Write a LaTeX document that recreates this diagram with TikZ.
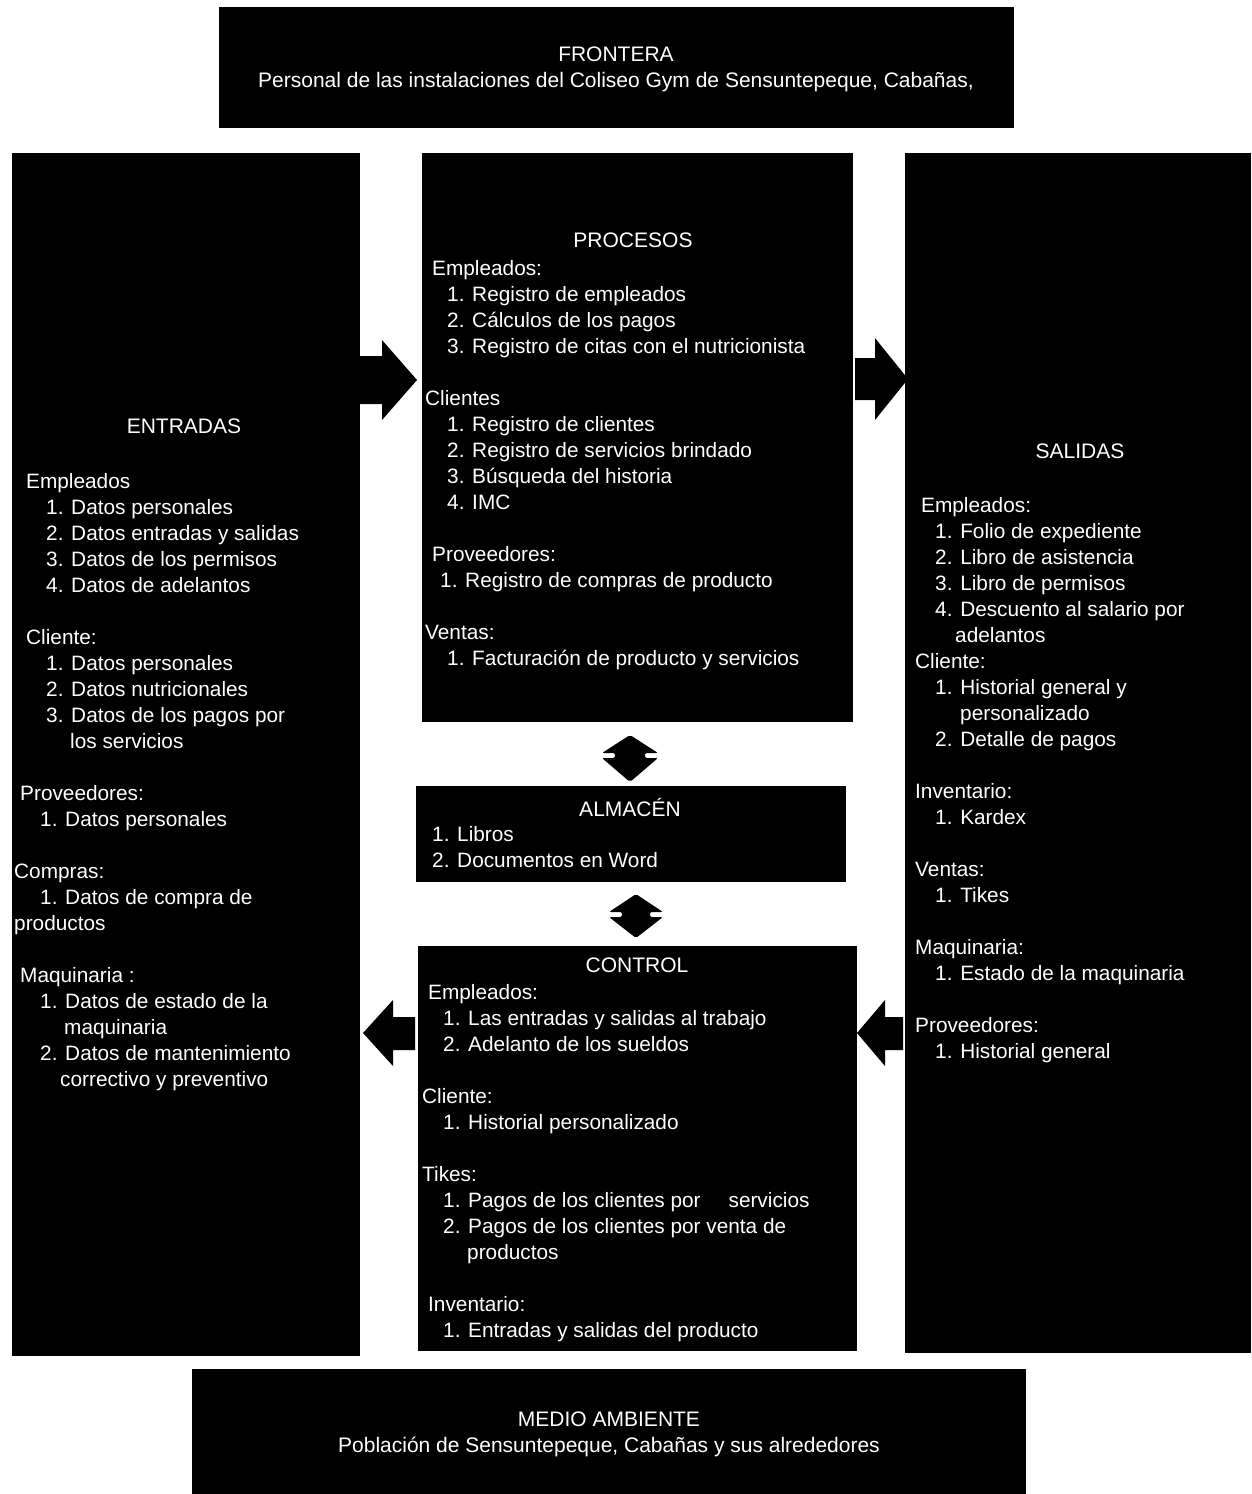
\documentclass[tikz,border=0pt]{standalone}
\usepackage{fontspec}
\setmainfont{Liberation Sans}
\begin{document}
\begin{tikzpicture}[x=1pt,y=-1pt,
  box/.style={fill=black, draw=none, anchor=north west, inner sep=0pt},
  body/.style={text=white, font=\fontsize{20.8}{26}\selectfont, inner sep=0pt, align=left, anchor=north west},
  title/.style={text=white, font=\fontsize{21}{26}\selectfont, inner sep=0pt, align=center},
  blockarrow/.style={fill=black},
  twoway/.style={fill=black, rounded corners=2pt}]

\fill[white] (0,0) rectangle (1251,1494);
\useasboundingbox (0,0) rectangle (1251,1494);

% black panels
\node[box, minimum width=795pt, minimum height=121pt]  (frontera) at (219,7)   {};
\node[box, minimum width=348pt, minimum height=1203pt] (entradas) at (12,153)  {};
\node[box, minimum width=431pt, minimum height=569pt]  (procesos) at (422,153) {};
\node[box, minimum width=346pt, minimum height=1200pt] (salidas)  at (905,153) {};
\node[box, minimum width=430pt, minimum height=96pt]   (almacen)  at (416,786) {};
\node[box, minimum width=439pt, minimum height=405pt]  (control)  at (418,946) {};
\node[box, minimum width=834pt, minimum height=125pt]  (medio)    at (192,1369) {};

% headings
\node[title] (tfrontera) at (616,69) {FRONTERA\\Personal de las instalaciones del Coliseo Gym de Sensuntepeque, Cabañas,};
\node[title] (tmedio) at (609,1434) {MEDIO AMBIENTE\\Población de Sensuntepeque, Cabañas y sus alrededores};
\node[title] (tentradas) at (184,426) {ENTRADAS};
\node[title] (tprocesos) at (633,240) {PROCESOS};
\node[title] (tsalidas)  at (1080,451) {SALIDAS};
\node[title] (talmacen)  at (630,807) {ALMACÉN};
\node[title] (tcontrol)  at (637,965) {CONTROL};

% panel contents
\node[body] (bentradas) at (14,472.8) {%
\hspace*{12pt}Empleados\\
\hspace*{32pt}1. Datos personales\\
\hspace*{32pt}2. Datos entradas y salidas\\
\hspace*{32pt}3. Datos de los permisos\\
\hspace*{32pt}4. Datos de adelantos\\
\mbox{}\\
\hspace*{12pt}Cliente:\\
\hspace*{32pt}1. Datos personales\\
\hspace*{32pt}2. Datos nutricionales\\
\hspace*{32pt}3. Datos de los pagos por\\
\hspace*{56pt}los servicios\\
\mbox{}\\
\hspace*{6pt}Proveedores:\\
\hspace*{26pt}1. Datos personales\\
\mbox{}\\
Compras:\\
\hspace*{26pt}1. Datos de compra de\\
productos\\
\mbox{}\\
\hspace*{6pt}Maquinaria :\\
\hspace*{26pt}1. Datos de estado de la\\
\hspace*{50pt}maquinaria\\
\hspace*{26pt}2. Datos de mantenimiento\\
\hspace*{46pt}correctivo y preventivo};

\node[body] (bprocesos) at (425,259.8) {%
\hspace*{7pt}Empleados:\\
\hspace*{22pt}1. Registro de empleados\\
\hspace*{22pt}2. Cálculos de los pagos\\
\hspace*{22pt}3. Registro de citas con el nutricionista\\
\mbox{}\\
Clientes\\
\hspace*{22pt}1. Registro de clientes\\
\hspace*{22pt}2. Registro de servicios brindado\\
\hspace*{22pt}3. Búsqueda del historia\\
\hspace*{22pt}4. IMC\\
\mbox{}\\
\hspace*{7pt}Proveedores:\\
\hspace*{15pt}1. Registro de compras de producto\\
\mbox{}\\
Ventas:\\
\hspace*{22pt}1. Facturación de producto y servicios};

\node[body] (balmacen) at (432,825.8) {%
1. Libros\\
2. Documentos en Word};

\node[body] (bcontrol) at (422,983.8) {%
\hspace*{6pt}Empleados:\\
\hspace*{21pt}1. Las entradas y salidas al trabajo\\
\hspace*{21pt}2. Adelanto de los sueldos\\
\mbox{}\\
Cliente:\\
\hspace*{21pt}1. Historial personalizado\\
\mbox{}\\
Tikes:\\
\hspace*{21pt}1. Pagos de los clientes por\hspace{28pt}servicios\\
\hspace*{21pt}2. Pagos de los clientes por venta de\\
\hspace*{45pt}productos\\
\mbox{}\\
\hspace*{6pt}Inventario:\\
\hspace*{21pt}1. Entradas y salidas del producto};

\node[body] (bsalidas) at (915,496.8) {%
\hspace*{6pt}Empleados:\\
\hspace*{20pt}1. Folio de expediente\\
\hspace*{20pt}2. Libro de asistencia\\
\hspace*{20pt}3. Libro de permisos\\
\hspace*{20pt}4. Descuento al salario por\\
\hspace*{40pt}adelantos\\
Cliente:\\
\hspace*{20pt}1. Historial general y\\
\hspace*{45pt}personalizado\\
\hspace*{20pt}2. Detalle de pagos\\
\mbox{}\\
Inventario:\\
\hspace*{20pt}1. Kardex\\
\mbox{}\\
Ventas:\\
\hspace*{20pt}1. Tikes\\
\mbox{}\\
Maquinaria:\\
\hspace*{20pt}1. Estado de la maquinaria\\
\mbox{}\\
Proveedores:\\
\hspace*{20pt}1. Historial general};

% block arrows between the panels
\fill[blockarrow] (357,356) -- (382,356) -- (382,340) -- (417,380) -- (382,420) -- (382,404) -- (357,404) -- cycle;
\fill[blockarrow] (855,358) -- (875,358) -- (875,338) -- (908,379) -- (875,420) -- (875,400) -- (855,400) -- cycle;
\fill[blockarrow] (415,1017) -- (393,1017) -- (393,1000) -- (363,1033) -- (393,1066) -- (393,1050) -- (415,1050) -- cycle;
\fill[blockarrow] (903,1017) -- (885,1017) -- (885,1000) -- (857,1033) -- (885,1066) -- (885,1050) -- (903,1050) -- cycle;

% two-way arrows around the store
\fill[twoway] (630,735) -- (658,753) -- (645,753) -- (645,758) -- (658,758) -- (630,782)
  -- (602,758) -- (615,758) -- (615,753) -- (602,753) -- cycle;
\fill[twoway] (636,894) -- (663,912) -- (650,912) -- (650,917) -- (663,917) -- (636,938)
  -- (609,917) -- (622,917) -- (622,912) -- (609,912) -- cycle;
\end{tikzpicture}
\end{document}
